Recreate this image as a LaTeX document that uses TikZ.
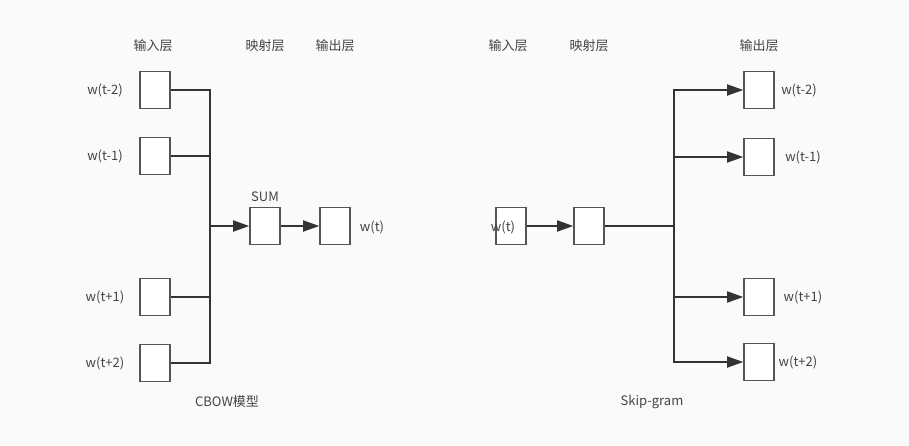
\documentclass[tikz,border=0pt]{standalone}
\usepackage{fontspec}
\setmainfont{Noto Sans CJK SC}
\usetikzlibrary{arrows.meta}
\definecolor{bggray}{HTML}{FAFAFA}
\definecolor{boxgray}{HTML}{555555}
\definecolor{linegray}{HTML}{333333}
\definecolor{txtgray}{HTML}{444444}
\tikzset{cell/.style={draw=boxgray, fill=white, line width=1.6pt, minimum width=30pt, minimum height=37pt, inner sep=0pt}}
\tikzset{l/.style={text=txtgray, font=\fontsize{13}{13}\selectfont, inner sep=0pt}}
\tikzset{conn/.style={draw=linegray, line width=1.8pt}}
\tikzset{arr/.style={conn, -{Triangle[length=16pt,width=11pt]}}}

\begin{document}
\begin{tikzpicture}[x=1pt, y=-1pt]
    \fill[bggray] (0,0) rectangle (909,446);
    \useasboundingbox (0,0) rectangle (909,446);
    % CBOW
    \node [l] (hinL) at (153,46) {输入层};
    \node [l] (hprojL) at (265,46) {映射层};
    \node [l] (houtL) at (335,46) {输出层};
    \node [cell] (in1) at (155,90) {};
    \node [cell] (in2) at (155,156) {};
    \node [cell] (in3) at (155,297) {};
    \node [cell] (in4) at (155,363) {};
    \node [l] (win1) at (105,90) {w(t-2)};
    \node [l] (win2) at (105,156) {w(t-1)};
    \node [l] (win3) at (105,297) {w(t+1)};
    \node [l] (win4) at (105,363) {w(t+2)};
    \node [cell] (sum) at (265,226) {};
    \node [l] (lsum) at (265,197) {SUM};
    \node [cell] (outL) at (335,226) {};
    \node [l] (woutL) at (372,227) {w(t)};
    \node [l] (cbow) at (227,402) {CBOW模型};
    \coordinate (busL) at (210,226);
    \draw [conn] (in1.east) -| (busL);
    \draw [conn] (in4.east) -| (busL);
    \draw [conn] (in2.east) -- (in2.east -| busL);
    \draw [conn] (in3.east) -- (in3.east -| busL);
    \draw [arr] (busL) -- (sum.west);
    \draw [arr] (sum.east) -- (outL.west);
    % Skip-gram
    \node [l] (hinR) at (508,46) {输入层};
    \node [l] (hprojR) at (589,46) {映射层};
    \node [l] (houtR) at (759,46) {输出层};
    \node [cell] (inR) at (511,226) {};
    \node [l] (winR) at (503,227) {w(t)};
    \node [cell] (proj) at (589,226) {};
    \node [cell] (o1) at (759,90) {};
    \node [cell] (o2) at (759,157) {};
    \node [cell] (o3) at (759,297) {};
    \node [cell] (o4) at (759,362) {};
    \node [l] (wo1) at (799,90) {w(t-2)};
    \node [l] (wo2) at (803,157) {w(t-1)};
    \node [l] (wo3) at (803,297) {w(t+1)};
    \node [l] (wo4) at (798,362) {w(t+2)};
    \node [l] (skip) at (652,402) {Skip-gram};
    \coordinate (busR) at (674,226);
    \draw [arr] (inR.east) -- (proj.west);
    \draw [conn] (proj.east) -- (busR);
    \draw [arr] (busR) |- (o1.west);
    \draw [arr] (busR) |- (o2.west);
    \draw [arr] (busR) |- (o3.west);
    \draw [arr] (busR) |- (o4.west);
\end{tikzpicture}
\end{document}
